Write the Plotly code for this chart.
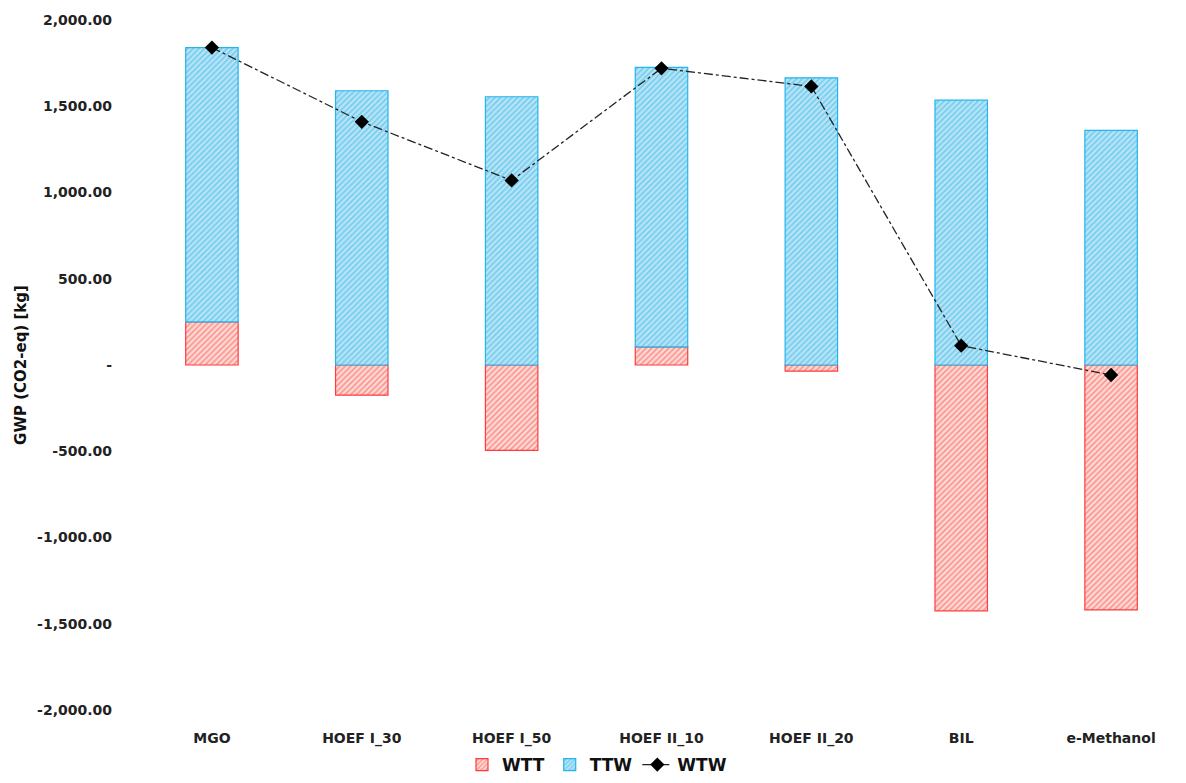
import plotly.graph_objects as go

categories = ["MGO", "HOEF I_30", "HOEF I_50", "HOEF II_10", "HOEF II_20", "BIL", "e-Methanol"]
wtt = [250, -175, -495, 105, -35, -1425, -1420]
ttw = [1590, 1590, 1555, 1620, 1665, 1535, 1360]
wtw = [1840, 1410, 1070, 1720, 1615, 112, -58]

tick_vals = [-2000, -1500, -1000, -500, 0, 500, 1000, 1500, 2000]
tick_text = ["-2,000.00", "-1,500.00", "-1,000.00", "-500.00", "-", "500.00", "1,000.00", "1,500.00", "2,000.00"]

font_family = "DejaVu Sans, sans-serif"

fig = go.Figure()
fig.add_trace(go.Bar(
    x=categories, y=wtt, name="WTT",
    marker=dict(color="#FBD3CF",
                line=dict(color="#FF3B3B", width=1.2),
                pattern=dict(shape="/", fgcolor="#FF4A4A", bgcolor="#FCDCD6", size=4, solidity=0.45)),
))
fig.add_trace(go.Bar(
    x=categories, y=ttw, name="TTW",
    marker=dict(color="#A9DDF3",
                line=dict(color="#22B5EE", width=1.2),
                pattern=dict(shape="/", fgcolor="#2FB6EA", bgcolor="#B9E4F6", size=4, solidity=0.45)),
))
fig.add_trace(go.Scatter(
    x=categories, y=wtw, name="WTW", mode="lines+markers",
    line=dict(color="#222222", width=1.3, dash="dashdot"),
    marker=dict(symbol="diamond", size=11, color="#000000"),
))

fig.update_layout(
    width=1186, height=783,
    barmode="relative", bargap=0.65,
    plot_bgcolor="white", paper_bgcolor="white",
    margin=dict(l=137, r=0, t=20, b=73),
    font=dict(family=font_family, color="#222222", size=14),
    showlegend=True,
    legend=dict(orientation="h", x=0.4385, xanchor="center", y=-0.1058, yanchor="bottom",
                font=dict(size=17, family=font_family, color="#111111", weight="bold"),
                itemwidth=30, tracegroupgap=0),
)
fig.update_xaxes(showgrid=False, showline=False, zeroline=False,
                 tickfont=dict(size=14, family=font_family, color="#222222", weight="bold"),
                 ticks="", ticklabelstandoff=18)
fig.update_yaxes(range=[-2000, 2000], tickvals=tick_vals, ticktext=tick_text,
                 showgrid=False, zeroline=False, showline=False,
                 tickfont=dict(size=14, family=font_family, color="#222222", weight="bold"),
                 ticklabelstandoff=24,
                 title=dict(text="GWP (CO2-eq) [kg]", standoff=6,
                            font=dict(size=15, family=font_family, color="#111111", weight="bold")))

fig.write_html("out.html")
